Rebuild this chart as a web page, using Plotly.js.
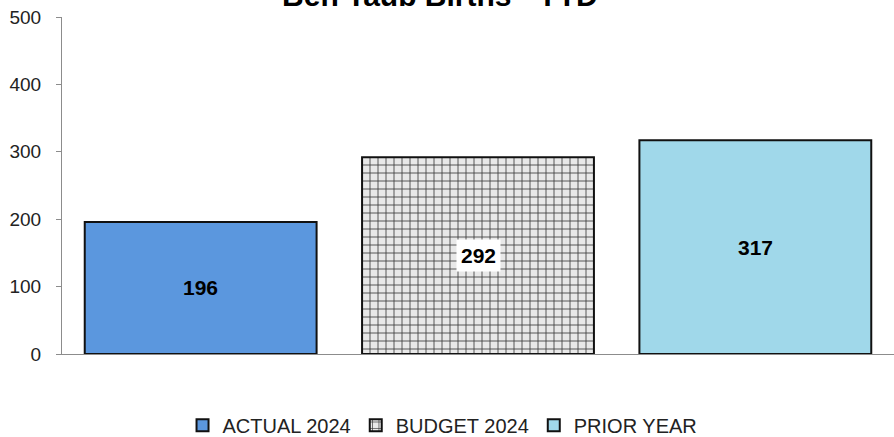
<!DOCTYPE html>
<html>
<head>
<meta charset="utf-8">
<script src="https://cdn.plot.ly/plotly-3.0.1.min.js"></script>
<style>html,body{margin:0;padding:0;background:#fff;}#chart{width:894px;height:437px;}</style>
</head>
<body>
<div id="chart"></div>
<script>
const chartTitle = "Ben Taub Births - YTD";
const seriesNames = ["ACTUAL 2024", "BUDGET 2024", "PRIOR YEAR"];
const seriesValues = [196, 292, 317];
const yTickVals = [0, 100, 200, 300, 400, 500];

const fills = ["#5B97DE", "#E4E4E4", "#A0D8EA"];
const patterns = [
  {shape: ""},
  {shape: "+", fgcolor: "#3a3a3a", bgcolor: "#E8E8E8", size: 8, solidity: 0.2},
  {shape: ""}
];

const traces = seriesNames.map((name, i) => ({
  type: "bar",
  name: name,
  x: [name],
  y: [seriesValues[i]],
  width: 0.836,
  marker: {
    color: fills[i],
    pattern: patterns[i],
    line: {color: "#111111", width: 2}
  },
  hoverinfo: "skip"
}));

const annotations = seriesNames.map((name, i) => ({
  x: name,
  y: seriesValues[i] / 2,
  xref: "x",
  yref: "y",
  text: "<b>" + seriesValues[i] + "</b>",
  showarrow: false,
  font: {family: "Liberation Sans, Arial, sans-serif", size: 21, color: "#000"},
  bgcolor: i === 1 ? "#FFFFFF" : "rgba(0,0,0,0)",
  borderpad: 4
}));

const layout = {
  width: 894,
  height: 437,
  margin: {l: 62, r: 0, t: 17, b: 83, autoexpand: false},
  paper_bgcolor: "#FFFFFF",
  plot_bgcolor: "#FFFFFF",
  title: {
    text: "<b>" + chartTitle + "</b>",
    font: {family: "Liberation Sans, Arial, sans-serif", size: 30, color: "#000"},
    x: 0.492,
    xanchor: "center",
    xref: "container",
    yref: "container",
    y: 0.987,
    yanchor: "bottom"
  },
  barmode: "overlay",
  showlegend: true,
  legend: {
    orientation: "h",
    x: 0.495,
    xref: "container",
    xanchor: "center",
    yref: "container",
    y: 0.027,
    yanchor: "middle",
    font: {family: "Liberation Sans, Arial, sans-serif", size: 20, color: "#222"},
    itemwidth: 30,
    traceorder: "normal"
  },
  xaxis: {
    type: "category",
    categoryorder: "array",
    categoryarray: seriesNames,
    showticklabels: false,
    ticks: "",
    showgrid: false,
    zeroline: false,
    showline: true,
    linecolor: "#8C8C8C",
    linewidth: 1,
    range: [-0.5, 2.5],
    fixedrange: true
  },
  yaxis: {
    range: [0, 500],
    tickvals: yTickVals,
    ticktext: yTickVals.map(String),
    ticks: "outside",
    ticklen: 5,
    tickcolor: "#8C8C8C",
    ticklabelstandoff: 11,
    showgrid: false,
    zeroline: false,
    showline: true,
    linecolor: "#8C8C8C",
    linewidth: 1,
    tickfont: {family: "Liberation Sans, Arial, sans-serif", size: 19, color: "#222"},
    fixedrange: true
  },
  annotations: annotations
};

Plotly.newPlot("chart", traces, layout, {displayModeBar: false, staticPlot: true});
</script>
</body>
</html>
